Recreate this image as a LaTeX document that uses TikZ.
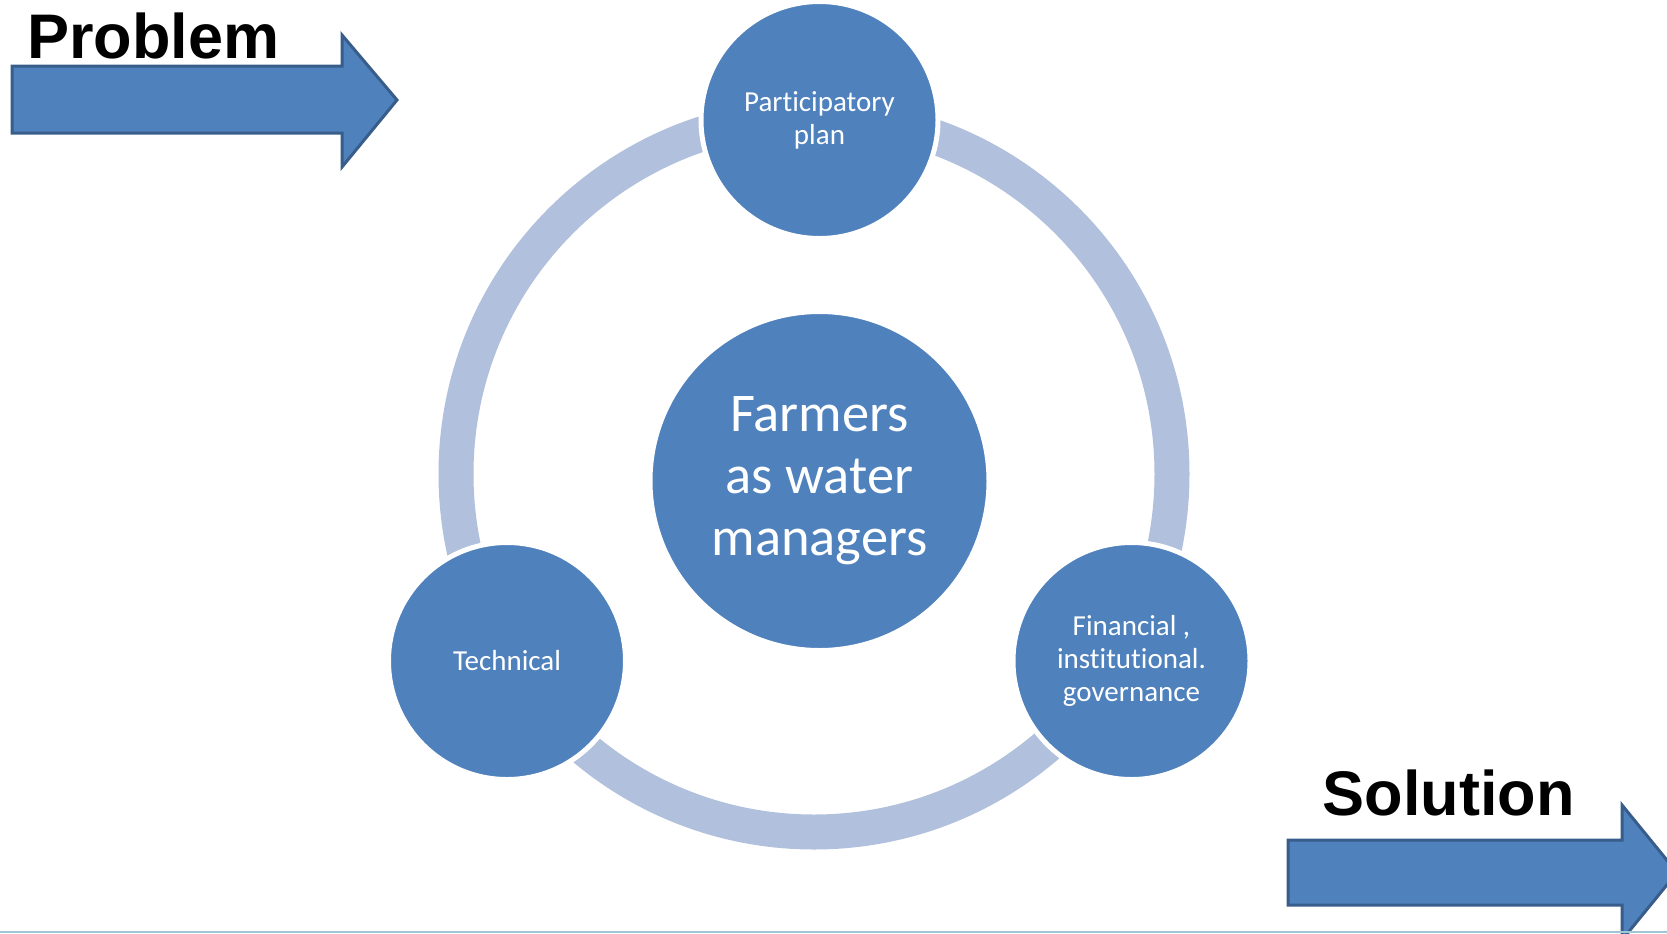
\documentclass[tikz,border=0pt]{standalone}
\usepackage{fontspec}
\setmainfont{Liberation Sans}
\newfontfamily\calibri[Ligatures=NoCommon]{Carlito}
\usepackage{tikz}
\usetikzlibrary{positioning}

\definecolor{smartblue}{RGB}{79,129,189}
\definecolor{arrowedge}{RGB}{56,93,138}
\definecolor{ringblue}{RGB}{177,192,220}
\definecolor{rulecyan}{RGB}{160,200,212}

\begin{document}
\begin{tikzpicture}[x=0.5pt, y=-0.5pt,
	bubble/.style={circle, fill=smartblue, draw=white, line width=2.5pt, minimum size=118.5pt, inner sep=0pt, text=white, align=center, font=\calibri\fontsize{14.5}{16.5}\selectfont},
	hub/.style={bubble, minimum size=169.5pt, font=\calibri\fontsize{27.25}{31}\selectfont},
	fatarrow/.style={fill=smartblue, draw=arrowedge, line width=1.5pt, line join=miter},
	caption/.style={anchor=base west, inner sep=0pt, font=\bfseries\fontsize{31.5}{36}\selectfont}]
					\useasboundingbox (0,0) rectangle (1667,933);
					\clip (0,0) rectangle (1667,933);
					
					\draw [ringblue, line width=17.5pt] (814,474) circle [radius=358];
					
					\node [hub] (farmers) at (819.5,481) {Farmers\\as water\\managers};
					\node [bubble] (plan) at (819.5,120) {Participatory\\plan};
					\node [bubble] (technical) at (507,661) {Technical};
					\node [bubble] (finance) at (1131.5,661) {Financial ,\\institutional.\\governance};
					
					\draw [fatarrow] (12,66) -- (342,66) -- (342,35) -- (397,100) -- (342,167) -- (342,133) -- (12,133) -- cycle;
					\node [caption] (problem) at (27,58) {Problem};
					
					\draw [fatarrow] (1288,840) -- (1622,840) -- (1622,805) -- (1677,872.5) -- (1622,940) -- (1622,905) -- (1288,905) -- cycle;
					\node [caption] (solution) at (1322.5,815) {Solution};
					
					\draw [rulecyan, line width=1pt] (0,932) -- (1667,932);
\end{tikzpicture}
\end{document}
